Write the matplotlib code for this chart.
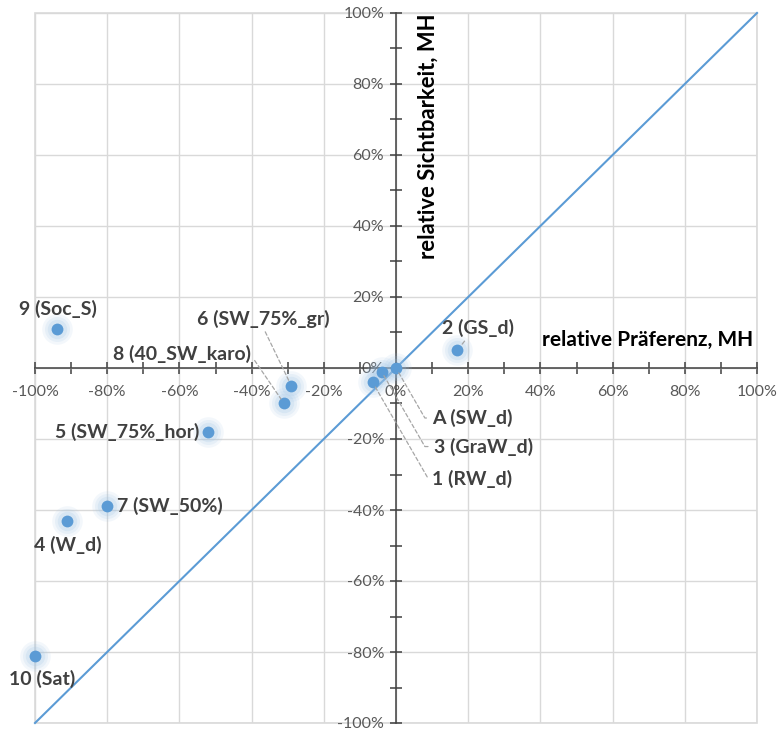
import matplotlib
matplotlib.use("Agg")
import matplotlib.pyplot as plt
from matplotlib.ticker import MultipleLocator, FuncFormatter
from matplotlib.patches import Rectangle

plt.rcParams['font.family'] = ['Lato', 'DejaVu Sans']

# Relative preference (x) and relative visibility (y) per variant, in percent
names = ["A (SW_d)", "1 (RW_d)", "2 (GS_d)", "3 (GraW_d)", "4 (W_d)",
         "5 (SW_75%_hor)", "6 (SW_75%_gr)", "7 (SW_50%)", "8 (40_SW_karo)",
         "9 (Soc_S)", "10 (Sat)"]
praeferenz = [0, -6.5, 17, -4, -91, -52, -29, -80, -31, -94, -100]
sichtbarkeit = [0, -4, 5, -1, -43, -18, -5, -39, -10, 11, -81]

# Label placement: offset in pixels, alignment, leader-line settings
label_style = {
    "A (SW_d)":       dict(off=(36, -50), ha="left", leader="angle"),
    "1 (RW_d)":       dict(off=(59, -97), ha="left", leader="angle"),
    "2 (GS_d)":       dict(off=(21, 22), ha="center", leader="straight", rel=(0.35, 0.0)),
    "3 (GraW_d)":     dict(off=(52, -75), ha="left", leader="angle"),
    "4 (W_d)":        dict(off=(0, -24), ha="center", leader=None),
    "5 (SW_75%_hor)": dict(off=(-9, 0), ha="right", leader=None),
    "6 (SW_75%_gr)":  dict(off=(-28, 67), ha="center", leader="straight", rel=(0.5, 0.0)),
    "7 (SW_50%)":     dict(off=(10, 0), ha="left", leader=None),
    "8 (40_SW_karo)": dict(off=(-102, 50), ha="center", leader="straight", rel=(1.0, 0.4)),
    "9 (Soc_S)":      dict(off=(1, 20), ha="center", leader=None),
    "10 (Sat)":       dict(off=(7, -23), ha="center", leader=None),
}

diag = [-100, 100]

W, H = 781, 733
fig = plt.figure(figsize=(W / 100, H / 100), dpi=100)
ax = fig.add_axes([35 / W, 10 / H, 722 / W, 710 / H])
ax.set_xlim(-100, 100)
ax.set_ylim(-100, 100)

# grid and frame
ax.set_axisbelow(True)
ax.xaxis.set_major_locator(MultipleLocator(20))
ax.yaxis.set_major_locator(MultipleLocator(20))
ax.xaxis.set_minor_locator(MultipleLocator(10))
ax.yaxis.set_minor_locator(MultipleLocator(10))
ax.grid(True, which="major", color="#d9d9d9", linewidth=1.0)
ax.add_patch(Rectangle((0, 0), 1, 1, transform=ax.transAxes, fill=False,
                       edgecolor="#d9d9d9", linewidth=1.2, zorder=0.5, clip_on=False))

# axes through the origin
for s in ("top", "right"):
    ax.spines[s].set_visible(False)
ax.spines["left"].set_position(("data", 0))
ax.spines["bottom"].set_position(("data", 0))
for s in ("left", "bottom"):
    ax.spines[s].set_color("#404040")
    ax.spines[s].set_linewidth(1.1)
    ax.spines[s].set_zorder(2)

ax.tick_params(which="both", direction="inout", length=9, width=1.1, color="#404040")
ax.tick_params(axis="x", which="major", pad=8, labelsize=11.5, labelcolor="#595959")
ax.tick_params(axis="y", which="major", pad=4, labelsize=11.5, labelcolor="#595959")
pct = FuncFormatter(lambda v, p: f"{v:.0f}%")
ax.xaxis.set_major_formatter(pct)
ax.yaxis.set_major_formatter(pct)

# diagonal reference line
ax.plot(diag, diag, color="#5b9bd5", linewidth=1.5, zorder=3, clip_on=False)

# points with soft glow
for r, a in [(22, 0.12), (18, 0.15), (14, 0.2)]:
    ax.scatter(praeferenz, sichtbarkeit, s=r ** 2, color="#9dc3e6", alpha=a,
               linewidths=0, zorder=4, clip_on=False)
ax.scatter(praeferenz, sichtbarkeit, s=8.5 ** 2, color="#5b9bd5",
           linewidths=0, zorder=5, clip_on=False)

# point labels with dashed leader lines
for name, x, y in zip(names, praeferenz, sichtbarkeit):
    st = label_style[name]
    props = None
    if st["leader"] == "angle":
        props = dict(arrowstyle="-", color="#a6a6a6", linestyle=(0, (3, 2)),
                     linewidth=0.9, relpos=(0.0, 0.5), shrinkA=2, shrinkB=3,
                     connectionstyle="angle,angleA=0,angleB=-60,rad=0")
    elif st["leader"] == "straight":
        props = dict(arrowstyle="-", color="#a6a6a6", linestyle=(0, (3, 2)),
                     linewidth=0.9, relpos=st["rel"], shrinkA=1, shrinkB=4)
    ax.annotate(name, xy=(x, y), xytext=st["off"], textcoords="offset pixels",
                ha=st["ha"], va="center", fontsize=14, fontweight="bold",
                color="#404040", arrowprops=props, zorder=6, annotation_clip=False)

# axis titles placed inside the plot area
ax.text(99, 7.9, "relative Präferenz, MH", ha="right", va="center",
        fontsize=15, fontweight="bold", color="#000000", zorder=6)
ax.text(8.9, 99.8, "relative Sichtbarkeit, MH", ha="center", va="top",
        rotation=90, fontsize=15.8, fontweight="bold", color="#000000", zorder=6)

fig.savefig("out.png", dpi=100, facecolor="white")
